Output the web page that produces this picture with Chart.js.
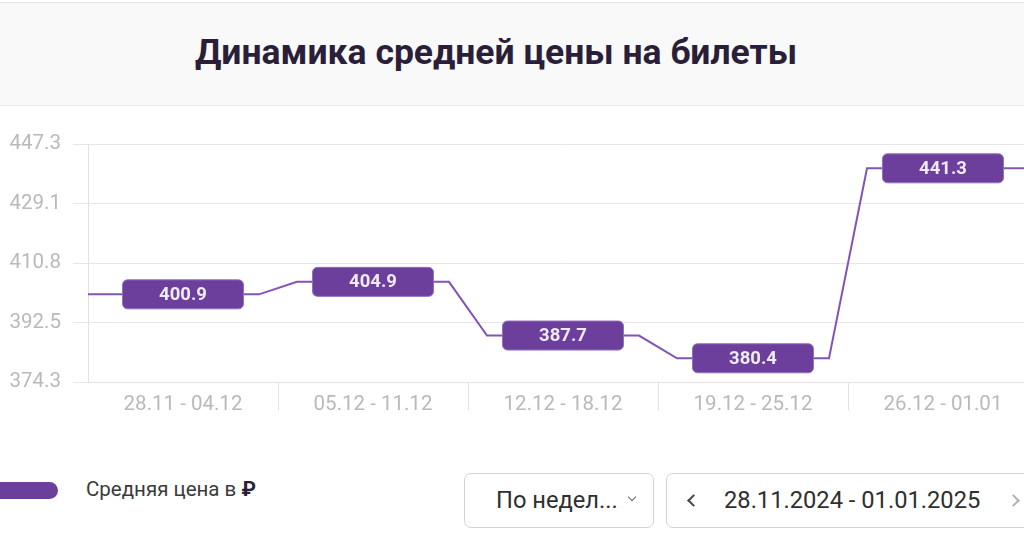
<!DOCTYPE html>
<html lang="ru">
<head>
<meta charset="utf-8">
<script src="https://cdn.jsdelivr.net/npm/chart.js@4.4.1/dist/chart.umd.min.js"></script>
<style>
  html, body { margin: 0; padding: 0; width: 1024px; height: 553px; overflow: hidden; background: #fff; font-family: Roboto, sans-serif; }
  .cabecalho { position: absolute; left: 0; top: 2px; width: 1024px; height: 102px; background: #f9f9fa;
    border-top: 1px solid #e6e6e8; border-bottom: 1px solid #ebebed; }
  .cabecalho h1 { margin: 0; position: absolute; left: 0; width: 992px; top: 28px; text-align: center;
    font-size: 35.5px; font-weight: 700; color: #2a1e38; line-height: 42px; }
  .grafico { position: absolute; left: 0; top: 120px; width: 1040px; height: 310px; }
  .legenda { position: absolute; left: 0; top: 480px; height: 20px; }
  .legenda .barra { position: absolute; left: -30px; top: 2px; width: 88px; height: 17px; border-radius: 9px; background: #6c3f9c; }
  .legenda .texto { position: absolute; left: 86px; top: -3px; font-size: 20.5px; color: #3b3b3b; white-space: nowrap; }
  .legenda .texto b { color: #2a1e38; }
  .caixa { position: absolute; top: 473px; height: 55px; border: 1px solid #d4d4d4; border-radius: 7px; box-sizing: border-box; background: #fff; color: #2f2f2f; font-size: 23.7px; }
  .periodo { left: 464px; width: 190px; }
  .periodo span { position: absolute; left: 31px; top: 12px; }
  .seta { position: absolute; width: 7px; height: 7px; border-left: 2px solid #444; border-bottom: 2px solid #444; }
  .periodo .seta { left: 164px; top: 20px; width: 5px; height: 5px; border-width: 1.5px; transform: rotate(-45deg); border-color: #666; }
  .datas { left: 666px; width: 380px; }
  .datas .esq { left: 22px; top: 22px; transform: rotate(45deg); }
  .datas .dir { left: 342px; top: 22px; transform: rotate(-135deg); border-color: #b0b0b0; }
  .datas .txt { position: absolute; left: 57px; top: 12px; }
</style>
</head>
<body>
<div class="cabecalho"><h1>Динамика средней цены на билеты</h1></div>
<div class="grafico"><canvas id="graficoPreco"></canvas></div>
<div class="legenda"><div class="barra"></div><div class="texto">Средняя цена в <b>₽</b></div></div>
<div class="caixa periodo"><span>По недел...</span><div class="seta"></div></div>
<div class="caixa datas"><div class="seta esq"></div><span class="txt">28.11.2024 - 01.01.2025</span><div class="seta dir"></div></div>
<script>
const semanas = ['28.11 - 04.12', '05.12 - 11.12', '12.12 - 18.12', '19.12 - 25.12', '26.12 - 01.01'];
const precos = [400.9, 404.9, 387.7, 380.4, 441.3];
const ticksY = ['374.3', '392.5', '410.8', '429.1', '447.3'];
// limites reais do eixo (os rótulos do original não batem exatamente com as linhas)
const minY = 372.8;
const maxY = 449.0;

const ROXO = '#6c3f9c';
const LINHA = '#8254b6';
const PATAMAR = 0.4;

// cada semana vira um trecho plano em volta do centro da categoria
function montaPontos() {
  const pts = [];
  precos.forEach((v, i) => {
    const ini = i === 0 ? -0.5 : i - PATAMAR;
    const fim = i === precos.length - 1 ? i + 0.5 : i + PATAMAR;
    pts.push({ x: ini, y: v }, { x: fim, y: v });
  });
  return pts;
}

const rotulos = {
  id: 'rotulos',
  afterDatasetsDraw(chart) {
    const { ctx, scales: { x, y } } = chart;
    ctx.save();
    precos.forEach((v, i) => {
      const cx = x.getPixelForValue(i);
      const cy = y.getPixelForValue(v);
      const w = 121, h = 29;
      ctx.beginPath();
      ctx.roundRect(cx - w / 2, cy - h / 2, w, h, 5);
      ctx.fillStyle = ROXO;
      ctx.fill();
      ctx.lineWidth = 1;
      ctx.strokeStyle = '#9270bd';
      ctx.stroke();
      ctx.fillStyle = '#efeaf5';
      ctx.font = 'bold 18.5px Roboto';
      ctx.textAlign = 'center';
      ctx.textBaseline = 'middle';
      ctx.fillText(v.toFixed(1), cx, cy + 1);
    });
    ctx.restore();
  }
};

new Chart(document.getElementById('graficoPreco'), {
  type: 'line',
  data: {
    datasets: [{
      label: 'Средняя цена в ₽',
      data: montaPontos(),
      borderColor: LINHA,
      borderWidth: 2,
      pointRadius: 0,
      tension: 0,
      fill: false
    }]
  },
  options: {
    responsive: true,
    maintainAspectRatio: false,
    animation: false,
    layout: { padding: { top: 23, right: 2, left: 0, bottom: 0 } },
    plugins: { legend: { display: false }, tooltip: { enabled: false } },
    scales: {
      x: {
        type: 'linear',
        min: -0.5,
        max: semanas.length - 0.5,
        afterBuildTicks: s => { s.ticks = semanas.map((_, i) => ({ value: i })); },
        afterFit: s => { s.height = 48; },
        ticks: {
          callback: v => semanas[v],
          color: '#b9b9b9',
          font: { family: 'Roboto', size: 20.5 },
          padding: -17,
          maxRotation: 0,
          autoSkip: false
        },
        grid: {
          offset: true,
          drawOnChartArea: false,
          tickLength: 28,
          color: c => c.index === 0 ? 'rgba(0,0,0,0)' : '#e2e2e2'
        },
        border: { color: '#e2e2e2' }
      },
      y: {
        min: minY,
        max: maxY,
        afterBuildTicks: s => {
          const passo = (maxY - minY) / (ticksY.length - 1);
          s.ticks = ticksY.map((_, i) => ({ value: minY + passo * i }));
        },
        afterFit: s => { s.width = 88; },
        ticks: {
          callback: (v, i) => ticksY[i],
          color: '#b9b9b9',
          font: { family: 'Roboto', size: 20.5 },
          padding: 12
        },
        grid: { color: '#e6e6e6', tickLength: 15 },
        border: { color: '#e2e2e2' }
      }
    }
  },
  plugins: [rotulos]
});
</script>
</body>
</html>
